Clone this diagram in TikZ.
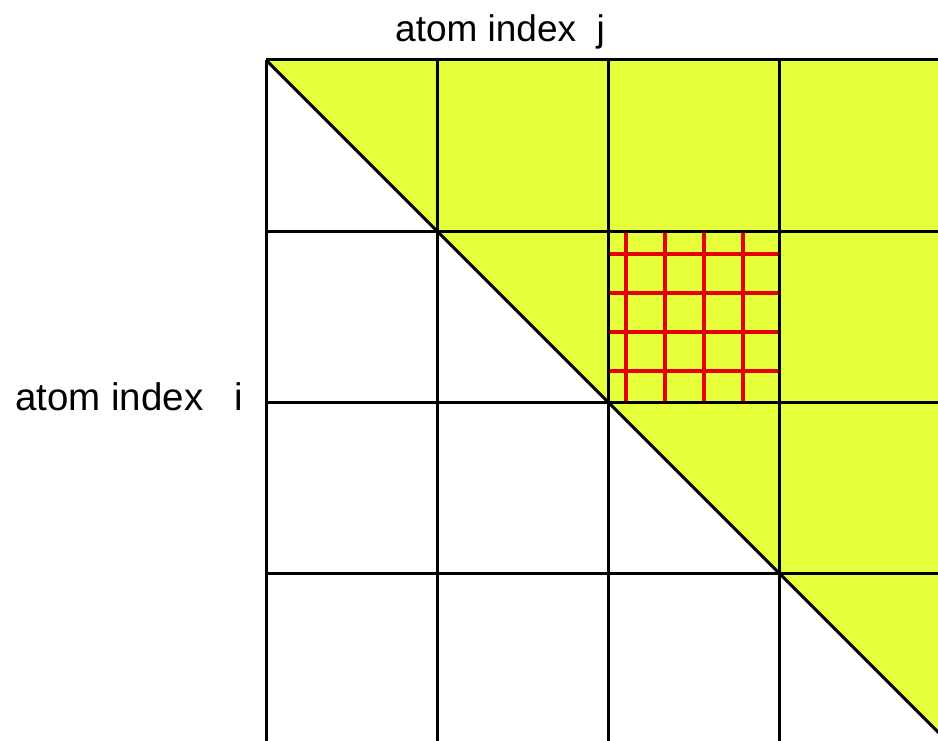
\documentclass[tikz,border=0pt]{standalone}
\usepackage{fontspec}
\setmainfont{Liberation Sans}
\definecolor{tileyellow}{RGB}{229,255,58}
\definecolor{tilered}{RGB}{232,0,0}

\begin{document}
\begin{tikzpicture}[
        x=1pt, y=-1pt,
        gridline/.style={line width=3pt, black},
        subline/.style={line width=3.2pt, tilered},
        axislabel/.style={font=\fontsize{37}{40}\selectfont, inner sep=0pt}
    ]
    \useasboundingbox (0,0) rectangle (938,741);
    \clip (0,0) rectangle (938,741);

    % upper triangle
    \fill[tileyellow] (266,60) -- (960,60) -- (960,754) -- cycle;

    % finer split of one block
    \foreach \k in {0,...,3} {
        \draw[subline] (609,{254+39*\k}) -- (780,{254+39*\k});
        \draw[subline] ({626+39*\k},231) -- ({626+39*\k},402);
    }

    % block grid
    \foreach \k in {0,...,3} {
        \draw[gridline] ({266+171.33*\k},60) -- ({266+171.33*\k},760);
        \draw[gridline] (266,{60+171.33*\k}) -- (960,{60+171.33*\k});
    }
    \draw[gridline] (266,60) -- (960,754);

    \node[axislabel, anchor=base west] (jlabel) at (395,42) {atom index\ \ j};
    \node[axislabel, font=\fontsize{38.5}{40}\selectfont, anchor=base west] (ilabel) at (15,410) {atom index\hspace{0.8em}i};
\end{tikzpicture}
\end{document}
